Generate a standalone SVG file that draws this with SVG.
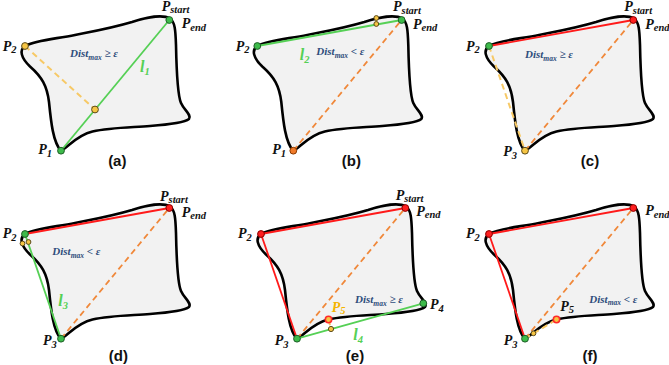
<svg xmlns="http://www.w3.org/2000/svg" xmlns:xlink="http://www.w3.org/1999/xlink" width="669" height="365" viewBox="0 0 669 365">
<style>
.blob{fill:#f2f2f2;stroke:#000;stroke-width:2.6;stroke-linejoin:round}
.gl{stroke:#55d055;stroke-width:1.8;fill:none}
.rl{stroke:#ff1a1a;stroke-width:1.8;fill:none}
.od{stroke:#f0883a;stroke-width:1.8;stroke-dasharray:6 4;fill:none}
.yd{stroke:#f7c966;stroke-width:2;stroke-dasharray:6 4;fill:none}
.g{fill:#3dbb4a;stroke:#1f5f28;stroke-width:1}
.y{fill:#f6c544;stroke:#5a4a1a;stroke-width:1}
.r{fill:#ff1f1f;stroke:#8a0000;stroke-width:1}
.o{fill:#f07a2a;stroke:#8a3a00;stroke-width:1}
.p5{fill:#f6c544;stroke:#ff2a2a;stroke-width:1.6}
.lbl{font-family:"Liberation Serif","Times New Roman",serif;font-weight:bold;font-style:italic;font-size:14px;fill:#111}
.sub{font-size:10.5px}
.dist{font-family:"Liberation Serif","Times New Roman",serif;font-weight:bold;font-style:italic;font-size:11px;fill:#2e4d7b}
.dsub{font-size:7.5px}
.ll{font-family:"Liberation Serif","Times New Roman",serif;font-weight:bold;font-style:italic;font-size:16px;fill:#55d055}
.cap{font-family:"Liberation Sans",Arial,sans-serif;font-weight:bold;font-size:15px;fill:#111;text-anchor:middle}
</style>
<defs>
<path id="blob" d="M176,45 C175.5,30 175,22 170,18.5 C164,15 150,16 132,22 C112,28 95,31 75,35 C55,39 36,40 25,46 C19,50 21,58 30,66.5 C42,77 47,86 49,102 C51,122 53,142 61,151 C68,147 77,135 92.5,131.5 C110,127.5 130,127.5 150,126 C170,124.5 184,123 189,119 C192,115 184,110 181,103 C177.5,95 176.5,70 176,45 Z"/>
</defs>

<!-- Panel (a) -->
<g id="panel-a">
<use href="#blob" class="blob"/>
<g id="a-connectors">
<line class="gl" x1="61" y1="150.7" x2="169.3" y2="20"/>
<line class="yd" x1="25" y1="46" x2="95" y2="109.5"/>
</g>
<g id="a-Pstart"><circle class="g" cx="169.3" cy="20" r="3.4"/><text class="lbl" x="161.7" y="10.7">P<tspan class="sub" dy="2.6">start</tspan></text><text class="lbl" x="181.7" y="28">P<tspan class="sub" dy="2.6">end</tspan></text></g>
<g id="a-P2"><circle class="y" cx="25" cy="46" r="3.4"/><text class="lbl" x="2.7" y="50.7">P<tspan class="sub" dy="2.6">2</tspan></text></g>
<g id="a-P1"><circle class="g" cx="61" cy="150.7" r="3.4"/><text class="lbl" x="38.3" y="154.3">P<tspan class="sub" dy="2.6">1</tspan></text></g>
<g id="a-foot"><circle class="y" cx="95" cy="109.5" r="3.4"/></g>
<text class="dist" x="70" y="57.3">Dist<tspan class="dsub" dy="2.5">max</tspan><tspan dy="-2.5"> ≥ ε</tspan></text>
<text class="ll" x="140" y="72">l<tspan class="sub" dy="2.5">1</tspan></text>
<text class="cap" x="117.3" y="166">(a)</text>
</g>

<!-- Panel (b) -->
<g id="panel-b" transform="translate(232.3,0)">
<use href="#blob" class="blob"/>
<g id="b-connectors">
<line class="od" x1="61" y1="150.7" x2="169.3" y2="20"/>
<line class="gl" x1="25" y1="46" x2="169.3" y2="20"/>
<line class="yd" x1="144" y1="18" x2="144" y2="24" stroke-dasharray="none"/>
</g>
<g id="b-Pstart"><circle class="g" cx="169.3" cy="20" r="3.4"/><text class="lbl" x="160.7" y="11">P<tspan class="sub" dy="2.6">start</tspan></text><text class="lbl" x="180.7" y="28.5">P<tspan class="sub" dy="2.6">end</tspan></text></g>
<g id="b-P2"><circle class="g" cx="25" cy="46" r="3.4"/><text class="lbl" x="3.4" y="50.5">P<tspan class="sub" dy="2.6">2</tspan></text></g>
<g id="b-P1"><circle class="o" cx="61" cy="150.7" r="3.4"/><text class="lbl" x="40" y="154">P<tspan class="sub" dy="2.6">1</tspan></text></g>
<g id="b-far"><circle class="y" cx="144" cy="18" r="2.4"/><circle class="y" cx="144" cy="24" r="2.4"/></g>
<text class="ll" x="67.4" y="60">l<tspan class="sub" dy="2.5">2</tspan></text>
<text class="dist" x="84" y="55">Dist<tspan class="dsub" dy="2.5">max</tspan><tspan dy="-2.5"> &lt; ε</tspan></text>
<text class="cap" x="119" y="166">(b)</text>
</g>

<!-- Panel (c) -->
<g id="panel-c" transform="translate(464,0)">
<use href="#blob" class="blob"/>
<g id="c-connectors">
<line class="od" x1="61" y1="150.7" x2="169.3" y2="20"/>
<line class="rl" x1="25" y1="46" x2="169.3" y2="20"/>
<line class="yd" x1="25" y1="46" x2="61" y2="150.7"/>
</g>
<g id="c-Pstart"><circle class="r" cx="169.3" cy="20" r="3.4"/><text class="lbl" x="160.3" y="11">P<tspan class="sub" dy="2.6">start</tspan></text><text class="lbl" x="181.3" y="28.5">P<tspan class="sub" dy="2.6">end</tspan></text></g>
<g id="c-P2"><circle class="g" cx="25" cy="46" r="3.4"/><text class="lbl" x="2" y="50.5">P<tspan class="sub" dy="2.6">2</tspan></text></g>
<g id="c-P3"><circle class="y" cx="61" cy="150.7" r="3.4"/><text class="lbl" x="39.3" y="156">P<tspan class="sub" dy="2.6">3</tspan></text></g>
<text class="dist" x="61" y="58">Dist<tspan class="dsub" dy="2.5">max</tspan><tspan dy="-2.5"> ≥ ε</tspan></text>
<text class="cap" x="126" y="166">(c)</text>
</g>

<!-- Panel (d) -->
<g id="panel-d" transform="translate(0,188)">
<use href="#blob" class="blob"/>
<g id="d-connectors">
<line class="od" x1="61" y1="150.7" x2="169.3" y2="20"/>
<line class="rl" x1="25" y1="46" x2="169.3" y2="20"/>
<line class="gl" x1="25" y1="46" x2="61" y2="150.7"/>
</g>
<g id="d-Pstart"><circle class="r" cx="169.3" cy="20" r="3.4"/><text class="lbl" x="160" y="12.5">P<tspan class="sub" dy="2.6">start</tspan></text><text class="lbl" x="181.7" y="28.7">P<tspan class="sub" dy="2.6">end</tspan></text></g>
<g id="d-P2"><circle class="g" cx="25" cy="46" r="3.4"/><text class="lbl" x="2.7" y="50.3">P<tspan class="sub" dy="2.6">2</tspan></text></g>
<g id="d-P3"><circle class="g" cx="61" cy="150.7" r="3.4"/><text class="lbl" x="43" y="157">P<tspan class="sub" dy="2.6">3</tspan></text></g>
<g id="d-far"><circle class="y" cx="22.5" cy="55.5" r="2.4"/><circle class="y" cx="28.5" cy="54" r="2.4"/></g>
<text class="dist" x="52.3" y="67">Dist<tspan class="dsub" dy="2.5">max</tspan><tspan dy="-2.5"> &lt; ε</tspan></text>
<text class="ll" x="58.3" y="118">l<tspan class="sub" dy="2.5">3</tspan></text>
<text class="cap" x="118.3" y="173">(d)</text>
</g>

<!-- Panel (e) -->
<g id="panel-e" transform="translate(236,188)">
<use href="#blob" class="blob"/>
<g id="e-connectors">
<line class="od" x1="61" y1="150.7" x2="169.3" y2="20"/>
<line class="rl" x1="25" y1="46" x2="169.3" y2="20"/>
<line class="rl" x1="25" y1="46" x2="61" y2="150.7"/>
<line class="gl" x1="61" y1="150.7" x2="187.3" y2="115.3"/>
<line class="yd" x1="92.5" y1="131.5" x2="95" y2="141" stroke-dasharray="3 2"/>
</g>
<g id="e-Pstart"><circle class="r" cx="169.3" cy="20" r="3.4"/><text class="lbl" x="159.7" y="11.5">P<tspan class="sub" dy="2.6">start</tspan></text><text class="lbl" x="180.3" y="27.7">P<tspan class="sub" dy="2.6">end</tspan></text></g>
<g id="e-P2"><circle class="r" cx="25" cy="46" r="3.4"/><text class="lbl" x="2" y="50.3">P<tspan class="sub" dy="2.6">2</tspan></text></g>
<g id="e-P3"><circle class="g" cx="61" cy="150.7" r="3.4"/><text class="lbl" x="38.7" y="157">P<tspan class="sub" dy="2.6">3</tspan></text></g>
<g id="e-P4"><circle class="g" cx="187.3" cy="115.3" r="3.4"/><text class="lbl" x="194" y="121.3">P<tspan class="sub" dy="2.6">4</tspan></text></g>
<g id="e-P5"><circle class="p5" cx="92.5" cy="131.5" r="3.2"/><text class="lbl" x="95.7" y="123.7" style="fill:#f5b400">P<tspan class="sub" dy="2.6">5</tspan></text></g>
<g id="e-foot"><circle class="y" cx="95" cy="141" r="2.6"/></g>
<text class="dist" x="119" y="115.3">Dist<tspan class="dsub" dy="2.5">max</tspan><tspan dy="-2.5"> ≥ ε</tspan></text>
<text class="ll" x="117.3" y="152">l<tspan class="sub" dy="2.5">4</tspan></text>
<text class="cap" x="119" y="173">(e)</text>
</g>

<!-- Panel (f) -->
<g id="panel-f" transform="translate(464,188)">
<use href="#blob" class="blob"/>
<g id="f-connectors">
<line class="od" x1="61" y1="150.7" x2="169.3" y2="20"/>
<line class="rl" x1="25" y1="46" x2="169.3" y2="20"/>
<line class="rl" x1="25" y1="46" x2="61" y2="150.7"/>
<line class="yd" x1="61" y1="150.7" x2="92.5" y2="131.5" stroke-dasharray="4 3"/>
</g>
<g id="f-Pend"><circle class="r" cx="169.3" cy="20" r="3.4"/><text class="lbl" x="181.3" y="27">P<tspan class="sub" dy="2.6">end</tspan></text></g>
<g id="f-P2"><circle class="r" cx="25" cy="46" r="3.4"/><text class="lbl" x="2" y="50.3">P<tspan class="sub" dy="2.6">2</tspan></text></g>
<g id="f-P3"><circle class="g" cx="61" cy="150.7" r="3.4"/><text class="lbl" x="39.7" y="157">P<tspan class="sub" dy="2.6">3</tspan></text></g>
<g id="f-P5"><circle class="p5" cx="92.5" cy="131.5" r="3.2"/><text class="lbl" x="96.3" y="122.7">P<tspan class="sub" dy="2.6">5</tspan></text></g>
<g id="f-near"><circle class="y" cx="69.5" cy="145.3" r="2.4"/></g>
<text class="dist" x="125.3" y="114.7">Dist<tspan class="dsub" dy="2.5">max</tspan><tspan dy="-2.5"> &lt; ε</tspan></text>
<text class="cap" x="126" y="173">(f)</text>
</g>
</svg>
